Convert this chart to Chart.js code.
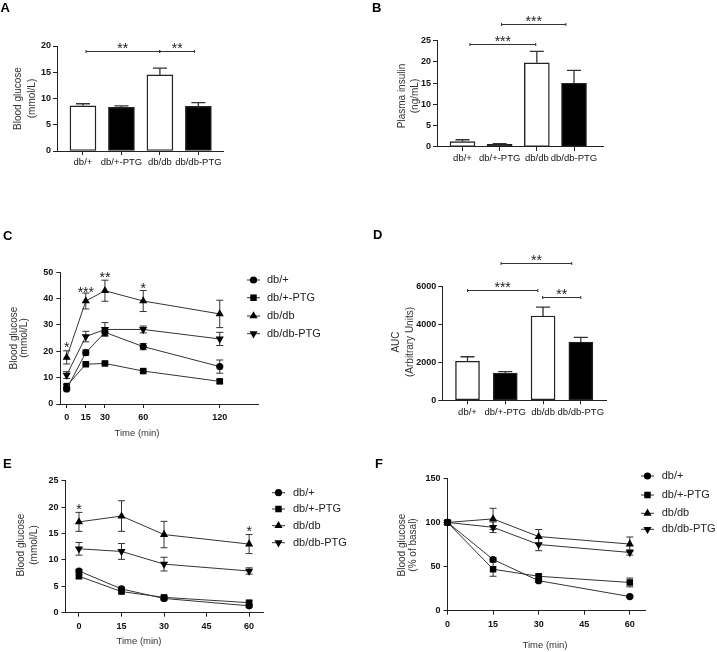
<!DOCTYPE html>
<html>
<head>
<meta charset="utf-8">
<script src="https://cdn.jsdelivr.net/npm/chart.js@4/dist/chart.umd.min.js"></script>
<style>
  html, body { margin: 0; padding: 0; background: #fff; }
  #wrap { position: relative; width: 717px; height: 652px; overflow: hidden; }
  #wrap canvas { position: absolute; left: 0; top: 0; }
</style>
</head>
<body>
<div id="wrap">
  <canvas id="pA" width="717" height="652"></canvas>
  <canvas id="pB" width="717" height="652"></canvas>
  <canvas id="pC" width="717" height="652"></canvas>
  <canvas id="pD" width="717" height="652"></canvas>
  <canvas id="pE" width="717" height="652"></canvas>
  <canvas id="pF" width="717" height="652"></canvas>
</div>
<script>
// groups used in every panel
const groups = ['db/+', 'db/+-PTG', 'db/db', 'db/db-PTG'];

// A - fasting blood glucose (mmol/L), mean and SEM
const glucoseA = [8.6, 8.3, 14.5, 8.5];
const glucoseASem = [0.4, 0.3, 1.3, 0.7];

// B - plasma insulin (ng/mL)
const insulinB = [1.25, 0.63, 19.8, 15.0];
const insulinBSem = [0.45, 0.15, 2.7, 3.0];

// D - AUC of the OGTT (arbitrary units)
const aucD = [2060, 1440, 4450, 3080];
const aucDSem = [240, 70, 475, 245];

// C - OGTT blood glucose (mmol/L)
const ogttTimes = [0, 15, 30, 60, 120];
const ogttDbPlus = [5.7, 19.5, 27.2, 21.8, 14.2];
const ogttDbPlusSem = [0.6, 1.0, 1.2, 1.2, 2.5];
const ogttDbPlusPtg = [6.8, 15.1, 15.4, 12.5, 8.6];
const ogttDbPlusPtgSem = [0.5, 0.5, 0.5, 0.5, 0.7];
const ogttDbDb = [17.7, 39.1, 43.0, 39.1, 34.2];
const ogttDbDbSem = [2.5, 3.0, 4.0, 4.0, 5.2];
const ogttDbDbPtg = [11.0, 25.6, 28.3, 28.3, 24.7];
const ogttDbDbPtgSem = [1.3, 2.0, 2.6, 1.3, 2.5];

// E - ITT blood glucose (mmol/L)
const ittTimes = [0, 15, 30, 60];
const ittDbPlus = [7.9, 4.5, 2.7, 1.3];
const ittDbPlusSem = [0.3, 0.3, 0.3, 0.3];
const ittDbPlusPtg = [6.9, 4.0, 2.9, 1.9];
const ittDbPlusPtgSem = [0.3, 0.3, 0.3, 0.3];
const ittDbDb = [17.2, 18.3, 14.8, 13.0];
const ittDbDbSem = [1.8, 2.9, 2.5, 1.8];
const ittDbDbPtg = [12.1, 11.6, 9.2, 7.9];
const ittDbDbPtgSem = [1.2, 1.5, 1.3, 0.6];

// F - ITT as % of basal
const basalDbPlus = [100, 58, 34, 16];
const basalDbPlusSem = [0, 2, 2, 1];
const basalDbPlusPtg = [100, 47, 39, 32];
const basalDbPlusPtgSem = [0, 8, 2, 5];
const basalDbDb = [100, 104, 84, 75.5];
const basalDbDbSem = [0, 12, 8, 8];
const basalDbDbPtg = [100, 94.5, 75, 66];
const basalDbDbPtgSem = [0, 6, 7, 3];

// significance marks: [from, to, y, label] in data units
const bracketsA = [[0.08, 1.99, 19.1, '**'], [2.0, 2.9, 19.1, '**']];
const bracketsB = [[0.2, 1.97, 24.2, '***'], [1.05, 2.78, 28.9, '***']];
const bracketsD = [[0.0, 1.86, 5840, '***'], [1.99, 3.0, 5460, '**'], [0.89, 2.76, 7240, '**']];
const starsC = [[0, 22.6, '*'], [15, 43.8, '***'], [30, 49.2, '**'], [60, 45.0, '*']];
const starsE = [[0, 20.3, '*'], [60, 16.0, '*']];

const FONT = '"Liberation Sans", Arial, Helvetica, sans-serif';
const INK = '#222';
const Y_BOX = 34;   // room kept for y tick labels
const X_BOX = 22;   // room kept for x tick labels
const markers = [
  { style: 'circle', rot: 0, r: 3.6 },
  { style: 'rect', rot: 0, r: 4.6 },
  { style: 'triangle', rot: 0, r: 4.7 },
  { style: 'triangle', rot: 180, r: 4.7 }
];

Chart.defaults.font.family = FONT;
Chart.defaults.color = INK;

function axis(min, max, ticks, fmt, font, pad) {
  return {
    type: 'linear',
    min: min,
    max: max,
    offset: false,
    afterFit: s => { if (s.isHorizontal()) s.height = X_BOX; else s.width = Y_BOX; },
    afterBuildTicks: s => { s.ticks = ticks.map(v => ({ value: v })); },
    grid: { display: true, offset: false, drawOnChartArea: false, drawTicks: true, tickLength: 4, color: INK, lineWidth: 1 },
    border: { display: true, color: INK, width: 1 },
    ticks: { font: font, color: '#111', padding: pad, autoSkip: false, maxRotation: 0, callback: fmt }
  };
}

const tickBold = { size: 9, weight: 'bold' };
const catFont = { size: 9.5 };
const num = v => String(v);

function drawMarker(ctx, m, x, y) {
  ctx.beginPath();
  if (m.style === 'circle') {
    ctx.arc(x, y, m.r, 0, Math.PI * 2);
  } else if (m.style === 'rect') {
    const s = m.r * Math.SQRT1_2;
    ctx.rect(x - s, y - s, 2 * s, 2 * s);
  } else {
    let a = m.rot * Math.PI / 180;
    for (let k = 0; k < 3; k++) {
      const px = x + Math.sin(a) * m.r, py = y - Math.cos(a) * m.r;
      if (k === 0) ctx.moveTo(px, py); else ctx.lineTo(px, py);
      a += Math.PI * 2 / 3;
    }
    ctx.closePath();
  }
  ctx.fill();
}

function decor(p) {
  return {
    id: 'decor',
    beforeDatasetsDraw(chart) {
      if (!p.lineErrors) return;
      const ctx = chart.ctx, ys = chart.scales.y;
      ctx.save();
      ctx.strokeStyle = '#333';
      ctx.lineWidth = 1;
      p.lineErrors.forEach((sem, i) => {
        const meta = chart.getDatasetMeta(i);
        const vals = chart.data.datasets[i].data;
        meta.data.forEach((pt, j) => {
          const e = sem[j];
          if (!e) return;
          const y1 = ys.getPixelForValue(vals[j].y + e), y2 = ys.getPixelForValue(vals[j].y - e);
          ctx.beginPath();
          ctx.moveTo(pt.x, y1); ctx.lineTo(pt.x, y2);
          ctx.moveTo(pt.x - 3.5, y1); ctx.lineTo(pt.x + 3.5, y1);
          ctx.moveTo(pt.x - 3.5, y2); ctx.lineTo(pt.x + 3.5, y2);
          ctx.stroke();
        });
      });
      ctx.restore();
    },
    afterDatasetsDraw(chart) {
      if (!p.barErrors) return;
      const ctx = chart.ctx, ys = chart.scales.y;
      const vals = chart.data.datasets[0].data;
      ctx.save();
      ctx.strokeStyle = '#333';
      ctx.lineWidth = 1.3;
      chart.getDatasetMeta(0).data.forEach((bar, j) => {
        const top = ys.getPixelForValue(vals[j].y + p.barErrors[j]);
        ctx.beginPath();
        ctx.moveTo(bar.x, bar.y); ctx.lineTo(bar.x, top);
        ctx.moveTo(bar.x - 7, top); ctx.lineTo(bar.x + 7, top);
        ctx.stroke();
      });
      ctx.restore();
    },
    afterDraw(chart) {
      const ctx = chart.ctx, xs = chart.scales.x, ys = chart.scales.y;
      ctx.save();
      // panel letter
      ctx.fillStyle = '#000';
      ctx.font = 'bold 13px ' + FONT;
      ctx.textAlign = 'left';
      ctx.textBaseline = 'alphabetic';
      ctx.fillText(p.letter[0], p.letter[1], p.letter[2]);
      // axis titles
      ctx.fillStyle = '#333';
      ctx.font = '10px ' + FONT;
      ctx.textAlign = 'center';
      ctx.textBaseline = 'middle';
      p.yTitle.forEach(t => {
        ctx.save();
        ctx.translate(t[1], p.yTitleMid);
        ctx.rotate(-Math.PI / 2);
        ctx.fillText(t[0], 0, 0);
        ctx.restore();
      });
      if (p.xTitle) {
        ctx.font = '9.5px ' + FONT;
        ctx.fillText(p.xTitle[0], p.xTitle[1], p.xTitle[2]);
      }
      // brackets with stars
      ctx.strokeStyle = '#333';
      ctx.lineWidth = 1;
      ctx.fillStyle = INK;
      ctx.font = '14px ' + FONT;
      ctx.textBaseline = 'alphabetic';
      (p.brackets || []).forEach(b => {
        const x1 = xs.getPixelForValue(b[0]), x2 = xs.getPixelForValue(b[1]);
        const y = Math.round(ys.getPixelForValue(b[2])) + 0.5;
        ctx.beginPath();
        ctx.moveTo(x1, y); ctx.lineTo(x2, y);
        ctx.moveTo(x1, y - 1.5); ctx.lineTo(x1, y + 1.5);
        ctx.moveTo(x2, y - 1.5); ctx.lineTo(x2, y + 1.5);
        ctx.stroke();
        ctx.fillText(b[3], (x1 + x2) / 2, y + 1);
      });
      (p.stars || []).forEach(s => {
        ctx.fillText(s[2], xs.getPixelForValue(s[0]), ys.getPixelForValue(s[1]) + 8);
      });
      // legend
      if (p.legend) {
        const lg = p.legend;
        ctx.font = '11px ' + FONT;
        ctx.textAlign = 'left';
        ctx.textBaseline = 'middle';
        groups.forEach((g, i) => {
          const y = lg.ys[i];
          ctx.strokeStyle = '#333';
          ctx.beginPath();
          ctx.moveTo(lg.x - 6.5, y); ctx.lineTo(lg.x + 6.5, y);
          ctx.stroke();
          ctx.fillStyle = '#000';
          drawMarker(ctx, markers[i], lg.x, y);
          ctx.fillStyle = INK;
          ctx.fillText(g, lg.textX, y);
        });
      }
      ctx.restore();
    }
  };
}

function makeChart(id, box, type, datasets, xAxis, yAxis, extra) {
  return new Chart(document.getElementById(id), {
    type: type,
    data: { datasets: datasets },
    options: {
      responsive: false,
      animation: false,
      layout: { padding: { left: box[0] - Y_BOX, top: box[1], right: 717 - box[2], bottom: 652 - box[3] - X_BOX } },
      plugins: { legend: { display: false }, tooltip: { enabled: false } },
      scales: { x: xAxis, y: yAxis }
    },
    plugins: [decor(extra)]
  });
}

function barPanel(id, box, values, sem, xRange, yMax, yTicks, width, extra) {
  const ds = [{
    data: values.map((v, i) => ({ x: i, y: v })),
    backgroundColor: groups.map((g, i) => (i % 2 ? '#000' : '#fff')),
    borderColor: '#222',
    borderWidth: 1.4,
    borderSkipped: false,
    barThickness: width
  }];
  extra.barErrors = sem;
  return makeChart(id, box, 'bar', ds,
    axis(xRange[0], xRange[1], [0, 1, 2, 3], v => groups[v], catFont, 2),
    axis(0, yMax, yTicks, num, tickBold, 2), extra);
}

function linePanel(id, box, times, series, sems, xRange, xTicks, yMax, yTicks, extra) {
  const ds = series.map((vals, i) => ({
    data: vals.map((v, j) => ({ x: times[j], y: v })),
    borderColor: '#333',
    borderWidth: 1,
    pointStyle: markers[i].style,
    pointRotation: markers[i].rot,
    pointRadius: markers[i].r,
    pointBackgroundColor: '#000',
    pointBorderColor: '#000',
    pointBorderWidth: 0,
    tension: 0,
    clip: false
  }));
  extra.lineErrors = sems;
  return makeChart(id, box, 'line', ds,
    axis(xRange[0], xRange[1], xTicks, num, tickBold, 4),
    axis(0, yMax, yTicks, num, tickBold, 3), extra);
}

barPanel('pA', [57, 46, 223, 151], glucoseA, glucoseASem, [-0.675, 3.64], 20, [0, 5, 10, 15, 20], 26, {
  letter: ['A', 0.5, 12],
  yTitle: [['Blood glucose', 18], ['(mmol/L)', 32]], yTitleMid: 98.5,
  brackets: bracketsA
});

barPanel('pB', [437, 40.7, 603, 147], insulinB, insulinBSem, [-0.686, 3.78], 25, [0, 5, 10, 15, 20, 25], 25, {
  letter: ['B', 372, 12],
  yTitle: [['Plasma insulin', 402], ['(ng/mL)', 415]], yTitleMid: 96,
  brackets: bracketsB
});

barPanel('pD', [442.3, 286.7, 606.7, 400.3], aucD, aucDSem, [-0.667, 3.685], 6000, [0, 2000, 4000, 6000], 24, {
  letter: ['D', 373, 239],
  yTitle: [['AUC', 396], ['(Arbitrary Units)', 410]], yTitleMid: 342,
  brackets: bracketsD
});

linePanel('pC', [60.3, 272.3, 258, 404], ogttTimes,
  [ogttDbPlus, ogttDbPlusPtg, ogttDbDb, ogttDbDbPtg],
  [ogttDbPlusSem, ogttDbPlusPtgSem, ogttDbDbSem, ogttDbDbPtgSem],
  [-5, 150], ogttTimes, 50, [0, 10, 20, 30, 40, 50], {
    letter: ['C', 3, 240],
    yTitle: [['Blood glucose', 14], ['(mmol/L)', 24]], yTitleMid: 338,
    xTitle: ['Time (min)', 137, 433],
    stars: starsC,
    legend: { x: 253.5, textX: 267, ys: [280, 297.7, 316, 333.7] }
  });

linePanel('pE', [65.5, 480.7, 263.3, 612.7], ittTimes,
  [ittDbPlus, ittDbPlusPtg, ittDbDb, ittDbDbPtg],
  [ittDbPlusSem, ittDbPlusPtgSem, ittDbDbSem, ittDbDbPtgSem],
  [-4.75, 65], [0, 15, 30, 45, 60], 25, [0, 5, 10, 15, 20, 25], {
    letter: ['E', 3, 467.5],
    yTitle: [['Blood glucose', 21], ['(mmol/L)', 34]], yTitleMid: 545,
    xTitle: ['Time (min)', 139, 641.7],
    stars: starsE,
    legend: { x: 278.5, textX: 293, ys: [492.7, 509, 525.7, 542.7] }
  });

linePanel('pF', [447.5, 478.3, 645, 610.7], ittTimes,
  [basalDbPlus, basalDbPlusPtg, basalDbDb, basalDbDbPtg],
  [basalDbPlusSem, basalDbPlusPtgSem, basalDbDbSem, basalDbDbPtgSem],
  [0, 65], [0, 15, 30, 45, 60], 150, [0, 50, 100, 150], {
    letter: ['F', 375, 467.5],
    yTitle: [['Blood glucose', 402], ['(% of basal)', 413]], yTitleMid: 545,
    xTitle: ['Time (min)', 545, 645.7],
    legend: { x: 647.5, textX: 661.7, ys: [476, 495, 513.3, 529.3] }
  });
</script>
</body>
</html>
